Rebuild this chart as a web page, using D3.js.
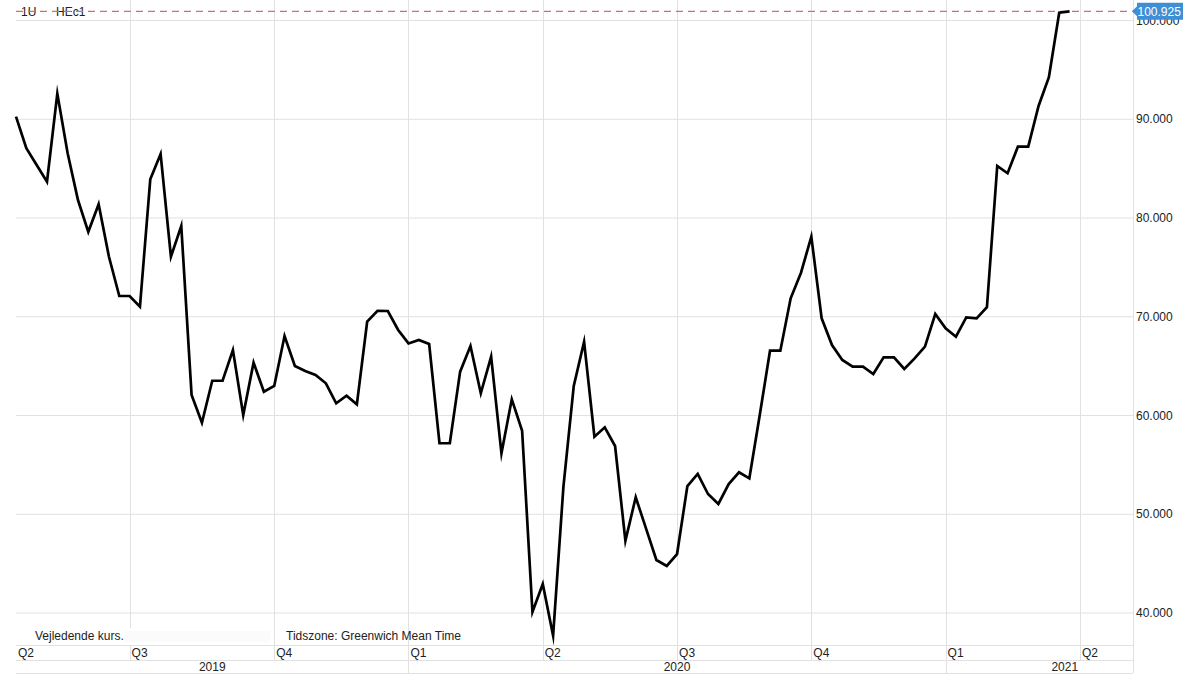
<!DOCTYPE html>
<html>
<head>
<meta charset="utf-8">
<script src="https://cdn.jsdelivr.net/npm/d3@7"></script>
<style>
  html, body { margin: 0; padding: 0; background: #ffffff; }
  svg { display: block; font-family: "Liberation Sans", Arial, Helvetica, sans-serif; }
</style>
</head>
<body>
<svg id="chart" width="1200" height="675"></svg>
<script>
// ---- Data (weekly closes, first week 2019-04-15) ----
const firstWeek = "2019-04-15";
const prices = [
  90.26, 87.06, 85.37, 83.68, 92.6, 86.55, 81.82, 78.6, 81.4, 76.07,
  72.1, 72.1, 71.02, 83.92, 86.48, 76.08, 79.19, 62.08, 59.27, 63.52,
  63.52, 66.63, 60.05, 65.35, 62.41, 62.99, 68.05, 65.01, 64.5, 64.1,
  63.26, 61.24, 62.0, 61.13, 69.5, 70.6, 70.58, 68.66, 67.3, 67.65,
  67.24, 57.19, 57.19, 64.44, 67.04, 62.25, 65.96, 56.17, 61.64, 58.46,
  40.1, 42.94, 37.7, 52.8, 62.99, 67.47, 57.85, 58.8, 56.91, 47.32,
  51.72, 48.54, 45.37, 44.76, 45.97, 52.86, 54.08, 52.05, 51.04, 53.06,
  54.25, 53.64, 60.0, 66.56, 66.56, 71.87, 74.46, 78.11, 69.84, 67.14,
  65.62, 64.94, 64.94, 64.2, 65.89, 65.89, 64.71, 65.79, 66.97, 70.28,
  68.83, 67.98, 69.94, 69.84, 70.96, 85.27, 84.53, 87.22, 87.22, 91.34,
  94.25, 100.79, 100.925
];
const lastPrice = 100.925;
const yTicks = [40, 50, 60, 70, 80, 90, 100];
const quarterDates = ["2019-04-15", "2019-07-01", "2019-10-07", "2020-01-06", "2020-04-06",
                      "2020-07-06", "2020-10-05", "2021-01-04", "2021-04-05"];
const quarterLabels = ["Q2", "Q3", "Q4", "Q1", "Q2", "Q3", "Q4", "Q1", "Q2"];
const yearLabels = ["2019", "2020", "2021"];
const yearStartDates = ["2019-04-15", "2020-01-06", "2021-01-04"];
const instrumentLabels = ["1U", "HEc1"];
const footnoteLeft = "Vejledende kurs.";
const footnoteRight = "Tidszone: Greenwich Mean Time";

// ---- Layout ----
const W = 1200, H = 675;
const plotL = 16, plotR = 1133, plotT = 0, plotB = 645;
const qRowB = 660, yRowB = 673;

const parse = d3.utcParse("%Y-%m-%d");
const start = parse(firstWeek);
const data = prices.map((v, i) => ({ date: d3.utcWeek.offset(start, i), value: v }));

const x = d3.scaleUtc()
  .domain([start, d3.utcDay.offset(start, 757)])
  .range([plotL, plotR]);
const y = d3.scaleLinear().domain([40, 100]).range([613, 20.5]);

const svg = d3.select("#chart");
const gridColor = "#e1e1e1";
const textColor = "#222222";

// horizontal gridlines
svg.append("g").selectAll("line").data(yTicks).join("line")
  .attr("x1", plotL).attr("x2", plotR)
  .attr("y1", d => y(d)).attr("y2", d => y(d))
  .attr("stroke", gridColor).attr("stroke-width", 1);

// vertical quarter gridlines (through quarter row)
const qd = quarterDates.map(parse);
svg.append("g").selectAll("line").data(qd.slice(1)).join("line")
  .attr("x1", d => Math.round(x(d)) + 0.5).attr("x2", d => Math.round(x(d)) + 0.5)
  .attr("y1", plotT).attr("y2", qRowB)
  .attr("stroke", gridColor).attr("stroke-width", 1);

// right border
svg.append("line")
  .attr("x1", plotR + 0.5).attr("x2", plotR + 0.5).attr("y1", 0).attr("y2", yRowB)
  .attr("stroke", gridColor);

// bottom axis row lines
[plotB, qRowB, yRowB].forEach(yy => {
  svg.append("line").attr("x1", plotL).attr("x2", plotR)
    .attr("y1", yy + 0.5).attr("y2", yy + 0.5).attr("stroke", gridColor);
});

// year separators
const yd = yearStartDates.map(parse);
svg.append("g").selectAll("line").data(yd.slice(1)).join("line")
  .attr("x1", d => Math.round(x(d)) + 0.5).attr("x2", d => Math.round(x(d)) + 0.5)
  .attr("y1", qRowB).attr("y2", yRowB)
  .attr("stroke", gridColor);

// quarter labels
svg.append("g").selectAll("text").data(qd).join("text")
  .attr("x", d => Math.max(plotL + 2, x(d) + 2))
  .attr("y", 657)
  .attr("font-size", 12).attr("fill", textColor)
  .text((d, i) => quarterLabels[i]);

// year labels
const yearBounds = yd.map((d, i) => [x(d), i < yd.length - 1 ? x(yd[i + 1]) : 1184]);
svg.append("g").selectAll("text").data(yearBounds).join("text")
  .attr("x", d => (d[0] + d[1]) / 2)
  .attr("y", 671)
  .attr("text-anchor", "middle")
  .attr("font-size", 12).attr("fill", textColor)
  .text((d, i) => yearLabels[i]);

// right axis labels
const fmt = d3.format(".3f");
svg.append("g").selectAll("text").data(yTicks).join("text")
  .attr("x", 1136).attr("y", d => y(d) + 4)
  .attr("font-size", 12).attr("fill", textColor)
  .text(d => fmt(d));

// footnotes
svg.append("rect").attr("x", 28).attr("y", 628).attr("width", 246).attr("height", 17).attr("fill", "#ffffff");
svg.append("rect").attr("x", 124).attr("y", 631).attr("width", 146).attr("height", 11).attr("fill", "#fbfbfb");
svg.append("text").attr("x", 35).attr("y", 640).attr("font-size", 12).attr("fill", textColor).text(footnoteLeft);
svg.append("text").attr("x", 286).attr("y", 640).attr("font-size", 12).attr("fill", textColor).text(footnoteRight);

// instrument labels (top-left)
svg.append("text").attr("x", 21).attr("y", 16).attr("font-size", 12).attr("fill", textColor).text(instrumentLabels[0]);
svg.append("text").attr("x", 56).attr("y", 16).attr("font-size", 12).attr("fill", textColor).text(instrumentLabels[1]);

// last price dashed line
svg.append("line")
  .attr("x1", plotL).attr("x2", plotR)
  .attr("y1", y(lastPrice)).attr("y2", y(lastPrice))
  .attr("stroke", "#cf6f6f").attr("stroke-width", 1.2)
  .attr("stroke-dasharray", "7,5");

// price line
const line = d3.line().x(d => x(d.date)).y(d => y(d.value));
svg.append("path").datum(data)
  .attr("d", line)
  .attr("fill", "none")
  .attr("stroke", "#000000")
  .attr("stroke-width", 2.7)
  .attr("stroke-linejoin", "miter")
  .attr("stroke-miterlimit", 10);

// last price badge
const by = y(lastPrice);
const badge = svg.append("g");
badge.append("path")
  .attr("d", `M${plotR - 1},${by} L${plotR + 4},${by - 5} L${plotR + 4},${by - 8.5} L1183,${by - 8.5} L1183,${by + 8.5} L${plotR + 4},${by + 8.5} L${plotR + 4},${by + 5} Z`)
  .attr("fill", "#3f8fd6");
badge.append("text")
  .attr("x", 1137.5).attr("y", by + 4.5)
  .attr("font-size", 12).attr("fill", "#ffffff")
  .text(fmt(lastPrice));
</script>
</body>
</html>
